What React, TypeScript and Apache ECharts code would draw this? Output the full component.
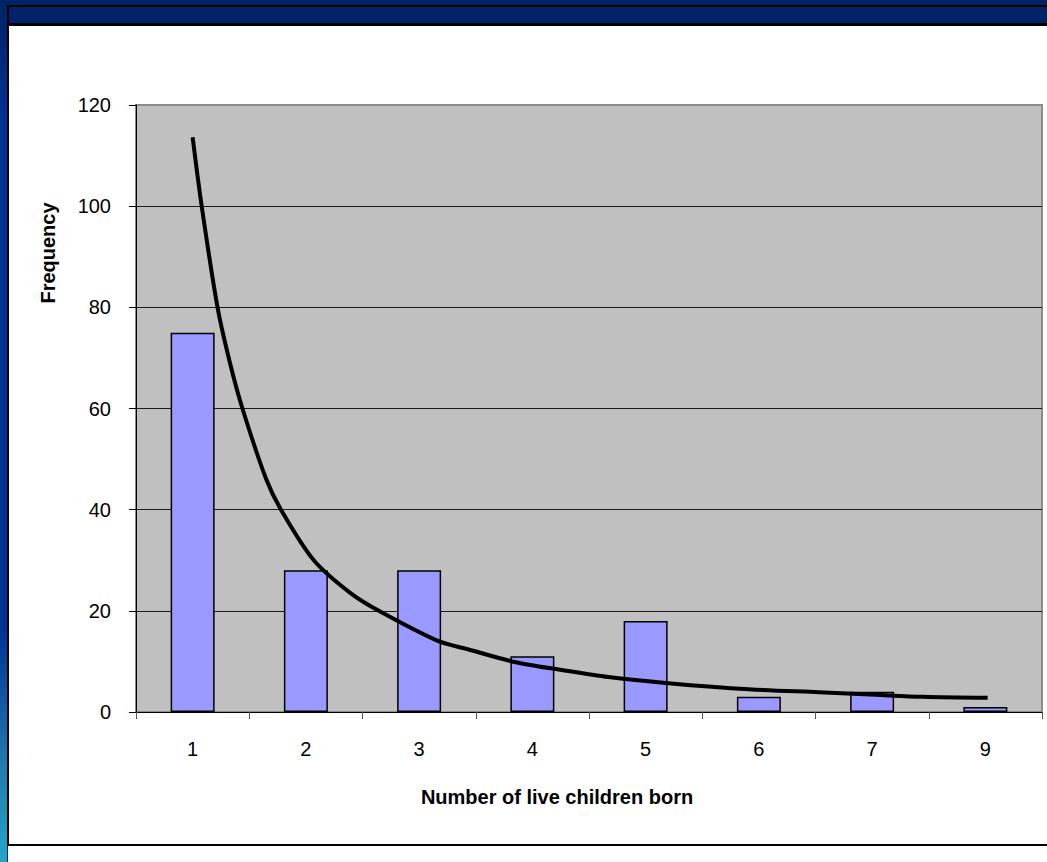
import React, { useEffect, useRef } from "react";
import * as echarts from "echarts";

const categories = ["1", "2", "3", "4", "5", "6", "7", "9"];
const frequency = [75, 28, 28, 11, 18, 3, 4, 1];
const yTicks = { min: 0, max: 120, interval: 20 };
// trend curve: [category position (0 = first category centre), value]
const trendX = [0, 0.08, 0.22, 0.33, 0.44, 0.65, 0.78, 1.07, 1.4, 1.66, 2.16, 2.43, 2.84, 3.26, 3.67, 4.2, 4.91, 5.53, 6.03, 6.45, 7.02];
const trendY = [113.6, 100, 80, 69, 60, 46, 40, 30, 23.4, 19.8, 14.1, 12.4, 9.9, 8.3, 6.9, 5.7, 4.5, 3.9, 3.4, 3.0, 2.8];

const FONT = "'Liberation Sans', Arial, Helvetica, sans-serif";

export default function App() {
  const ref = useRef<HTMLDivElement>(null);
  useEffect(() => {
    if (!ref.current) return;
    const chart = echarts.init(ref.current, null, { renderer: "svg" });
    chart.setOption({
      animation: false,
      backgroundColor: "transparent",
      grid: {
        left: 136,
        top: 105,
        width: 906,
        height: 607,
        show: true,
        backgroundColor: "#C0C0C0",
        borderColor: "#8C8C8C",
        borderWidth: 2,
      },
      xAxis: [
        {
          type: "category",
          data: categories,
          axisLine: { onZero: false, lineStyle: { color: "#000", width: 1 } },
          axisTick: { show: true, alignWithLabel: false, length: 7, lineStyle: { color: "#555" } },
          axisLabel: { color: "#000", fontSize: 20, fontFamily: FONT, margin: 27 },
          splitLine: { show: false },
          z: 3,
        },
        { type: "value", min: -0.5, max: 7.5, show: false, splitLine: { show: false } },
      ],
      yAxis: {
        type: "value",
        min: yTicks.min,
        max: yTicks.max,
        interval: yTicks.interval,
        axisLine: { show: true, onZero: false, lineStyle: { color: "#000", width: 1 } },
        axisTick: { show: true, length: 7, lineStyle: { color: "#000" } },
        axisLabel: { color: "#000", fontSize: 20, fontFamily: FONT, margin: 25 },
        splitLine: { show: true, showMaxLine: false, lineStyle: { color: "#1a1a1a", width: 1 } },
      },
      series: [
        {
          type: "bar",
          data: frequency,
          barWidth: 44,
          itemStyle: { color: "#9999FF", borderColor: "#000", borderWidth: 1.5 },
          z: 2,
        },
        {
          type: "line",
          xAxisIndex: 1,
          data: trendX.map((x, i) => [x, trendY[i]]),
          smooth: 0.3,
          symbol: "none",
          lineStyle: { color: "#000", width: 4 },
          z: 4,
        },
      ],
      graphic: [
        {
          type: "text",
          x: 557,
          y: 797,
          style: {
            text: "Number of live children born",
            font: `bold 20px ${FONT}`,
            fill: "#000",
            textAlign: "center",
            textVerticalAlign: "middle",
          },
        },
        {
          type: "text",
          x: 48,
          y: 253,
          rotation: Math.PI / 2,
          style: {
            text: "Frequency",
            font: `bold 20px ${FONT}`,
            fill: "#000",
            textAlign: "center",
            textVerticalAlign: "middle",
          },
        },
      ],
    });
    return () => chart.dispose();
  }, []);

  const abs = (s: React.CSSProperties): React.CSSProperties => ({ position: "absolute", ...s });
  return (
    <div style={abs({ left: 0, top: 0, width: 1047, height: 862, background: "#002266", overflow: "hidden" })}>
      <div
        style={abs({
          left: 0,
          top: 0,
          width: 7,
          height: 862,
          background: "linear-gradient(to bottom, #002266 0%, #003399 15%, #003399 73%, #1F78B0 88%, #22A8C2 100%)",
        })}
      />
      <div style={abs({ left: 7, top: 5, width: 1040, height: 2, background: "#000" })} />
      <div style={abs({ left: 7, top: 5, width: 2, height: 841, background: "#000" })} />
      <div style={abs({ left: 9, top: 23, width: 1038, height: 3, background: "#000" })} />
      <div style={abs({ left: 9, top: 26, width: 1038, height: 818, background: "#FFFFFF" })} />
      <div style={abs({ left: 7, top: 844, width: 1040, height: 2, background: "#000" })} />
      <div style={abs({ left: 8, top: 846, width: 1039, height: 16, background: "#FFFFFF" })} />
      <div ref={ref} style={abs({ left: 0, top: 0, width: 1047, height: 862 })} />
    </div>
  );
}
